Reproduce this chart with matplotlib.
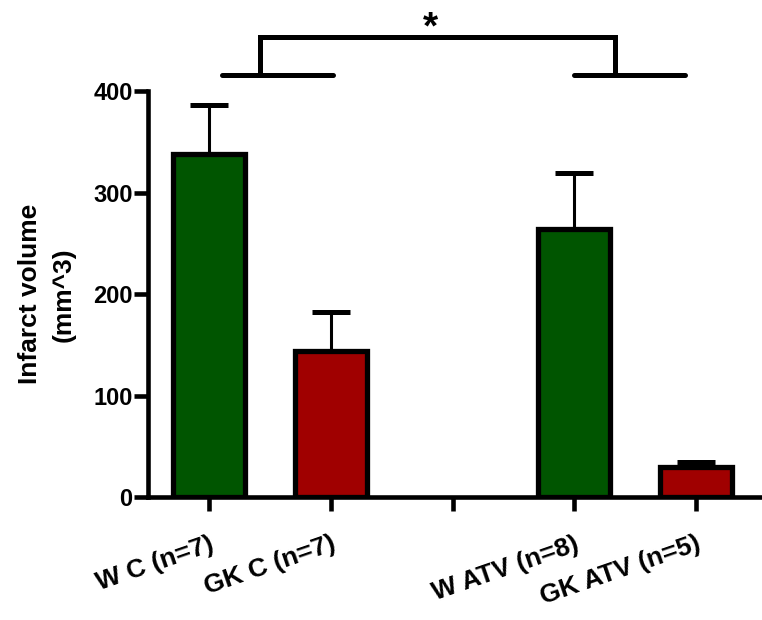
import matplotlib
matplotlib.use("Agg")
import matplotlib.pyplot as plt

plt.rcParams['font.family'] = ['Liberation Sans', 'DejaVu Sans']
plt.rcParams['font.weight'] = 'bold'

labels = ["W C (n=7)", "GK C (n=7)", "", "W ATV (n=8)", "GK ATV (n=5)"]
pos = [1, 2, 4, 5]
vals = [338, 144, 264, 30]
errs = [48, 38, 55, 5]
cols = ["#005500", "#A00000", "#005500", "#A00000"]

fig = plt.figure(figsize=(7.62, 6.2), dpi=100)
ax = fig.add_axes([0.194, 0.198, 0.803, 0.655])

ax.bar(pos, vals, width=0.59, color=cols, edgecolor='black', linewidth=3.8, zorder=2)
ax.errorbar(pos, vals, yerr=[[0]*4, errs], fmt='none', ecolor='black',
            elinewidth=2.2, capsize=14, capthick=3.6, zorder=1)

ax.set_xlim(0.5, 5.52)
ax.set_ylim(0, 400)
ax.set_xticks([1, 2, 3, 4, 5])
ax.set_xticklabels(labels, rotation=19, ha='right', rotation_mode='anchor', fontsize=19, fontweight='bold')
ax.set_yticks([0, 100, 200, 300, 400])
ax.tick_params(axis='y', labelsize=17, width=3.3, length=10, pad=1)
ax.tick_params(axis='x', width=3.3, length=10, pad=15)
for t in ax.get_yticklabels():
    t.set_fontweight('bold')
ax.set_ylabel("Infarct volume\n(mm^3)", fontsize=19, fontweight='bold', linespacing=1.5)
ax.yaxis.set_label_coords(-0.118, 0.5)

for s in ['top', 'right']:
    ax.spines[s].set_visible(False)
for s in ['left', 'bottom']:
    ax.spines[s].set_linewidth(3.3)

# significance bracket
lw = 3.6
ax.plot([1.42, 4.33], [453, 453], color='black', lw=lw, clip_on=False, solid_capstyle='round')
ax.plot([1.42, 1.42], [453, 416], color='black', lw=lw, clip_on=False)
ax.plot([4.33, 4.33], [453, 416], color='black', lw=lw, clip_on=False)
ax.plot([1.11, 2.02], [416, 416], color='black', lw=lw, clip_on=False, solid_capstyle='round')
ax.plot([4.0, 4.91], [416, 416], color='black', lw=lw, clip_on=False, solid_capstyle='round')
ax.text(2.82, 462, "*", fontsize=28, fontweight='bold', ha='center', va='center')

fig.savefig("out.png", dpi=100)
